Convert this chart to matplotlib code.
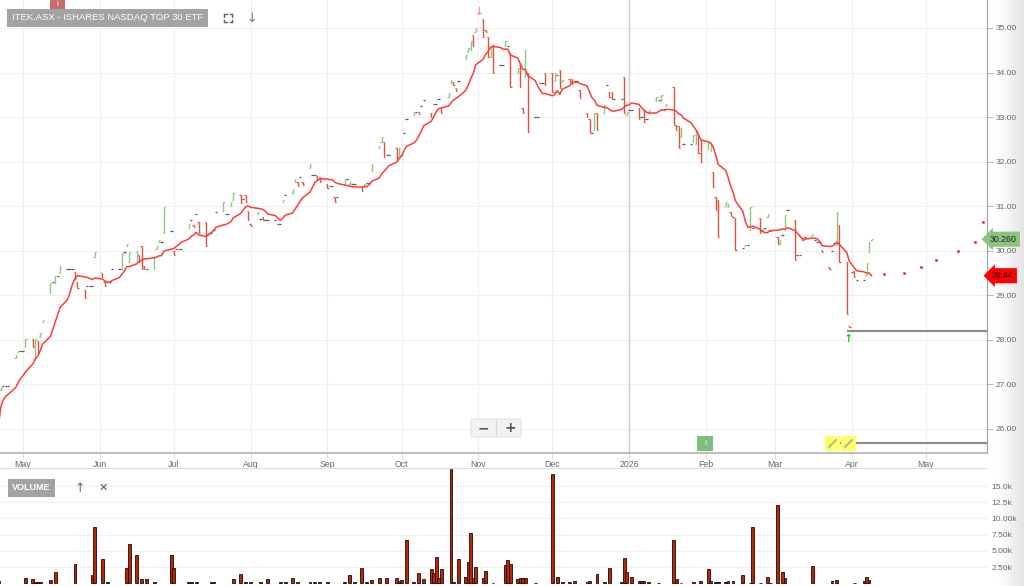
import datetime
import numpy as np
import pandas as pd
from matplotlib import pyplot as plt
from matplotlib import dates as mdates
from matplotlib import transforms as mtrans
from matplotlib.colors import LinearSegmentedColormap
from matplotlib.patches import FancyBboxPatch, Rectangle
from matplotlib.lines import Line2D

plt.rcParams['font.family'] = ['Liberation Sans', 'DejaVu Sans']

c_up = "#8cc97a"
c_down = "#d9533f"
c_flat = "#555555"
c_ma = "#ff3b3b"
c_vol = "#b52808"
c_tick = "#666666"

# daily bars, one row per week (Mon..Fri) starting 2025-04-21
opens = [
    26.08, 26.88, 26.97, 26.97, 26.97,
    27.60, 27.72, 27.74, 27.74, 27.83,
    28.03, 27.56, 27.97, 28.06, 28.40,
    29.06, 29.30, 29.27, 29.43, 29.50,
    29.60, 29.60, 29.60, 29.53, 29.30,
    29.13, 29.20, 29.20, 29.20, 29.85,
    29.50, 29.30, 29.30, 29.30, 29.60,
    29.60, 29.60, 29.98, 30.10, 29.75,
    29.78, 29.90, 30.10, 29.65, 29.60,
    29.60, 30.05, 30.20, 30.20, 30.40,
    30.45, 30.00, 30.05, 30.05, 30.05,
    30.50, 30.70, 30.57, 30.82, 30.65,
    30.65, 30.36, 30.40, 30.47, 30.86,
    30.90, 30.83, 30.83, 31.00, 31.15,
    31.25, 31.17, 31.25, 30.90, 30.60,
    30.82, 30.72, 30.75, 30.70, 30.70,
    30.70, 30.60, 30.60, 31.10, 31.25,
    31.30, 31.55, 31.55, 31.66, 31.55,
    31.85, 31.70, 31.70, 31.68, 31.65,
    31.50, 31.45, 31.45, 31.20, 31.20,
    31.50, 31.60, 31.50, 31.50, 31.50,
    31.45, 31.45, 31.52, 31.52, 31.80,
    32.30, 32.45, 32.45, 32.15, 32.15,
    32.30, 32.10, 32.12, 32.65, 32.95,
    33.05, 33.12, 33.12, 33.25, 33.38,
    33.10, 33.30, 33.30, 33.40, 33.20,
    33.45, 33.77, 33.78, 33.65, 33.80,
    34.30, 34.45, 34.50, 34.85, 34.90,
    35.20, 34.95, 34.80, 34.35, 34.62,
    34.17, 34.17, 34.60, 34.60, 34.44,
    34.00, 34.17, 33.20, 33.90, 34.00,
    33.00, 33.00, 33.77, 33.77, 34.00,
    34.00, 33.80, 33.95, 34.06, 33.78,
    33.85, 33.85, 33.80, 33.80, 33.60,
    33.10, 32.95, 32.65, 32.70, 33.10,
    33.10, 33.72, 33.56, 33.56, 33.40,
    33.40, 33.90, 33.05, 33.16, 33.16,
    33.20, 33.00, 33.15, 32.95, 33.10,
    33.37, 33.39, 33.35, 33.16, 33.25,
    33.68, 32.83, 32.80, 32.55, 32.40,
    32.40, 32.45, 32.40, 32.60, 32.50,
    32.28, 32.25, 31.77, 31.20, 31.14,
    31.00, 30.98, 30.87, 30.76, 30.74,
    30.06, 30.10, 30.13, 30.47, 30.50,
    30.74, 30.45, 30.52, 30.75, 30.47,
    30.30, 30.15, 30.35, 30.50, 30.92,
    30.70, 29.90, 29.90, 30.27, 30.30,
    30.33, 30.25, 30.20, 30.20, 30.02,
    29.63, 30.00, 30.18, 30.13, 30.58,
    29.75, 28.32, 29.53, 29.55, 29.34,
    29.34, 29.45, 29.98, 30.24,
]
closes = [
    26.03, 26.95, 26.97, 26.97, 26.97,
    27.66, 27.74, 27.74, 27.74, 28.03,
    27.84, 28.03, 27.70, 28.16, 28.45,
    29.28, 29.30, 29.43, 29.43, 29.66,
    29.60, 29.60, 29.60, 29.37, 29.17,
    28.95, 29.20, 29.20, 29.20, 29.98,
    29.40, 29.20, 29.30, 29.30, 29.60,
    29.60, 29.95, 29.98, 30.15, 29.98,
    30.00, 29.75, 29.60, 29.58, 29.60,
    29.85, 30.10, 30.25, 30.20, 30.99,
    30.45, 29.90, 30.05, 30.05, 30.05,
    30.60, 30.70, 30.53, 30.82, 30.40,
    30.10, 30.40, 30.40, 30.47, 30.86,
    31.10, 30.83, 30.83, 31.10, 31.30,
    31.07, 31.17, 31.10, 30.70, 30.55,
    30.87, 30.72, 30.68, 30.70, 30.70,
    30.70, 30.60, 30.60, 31.15, 31.25,
    31.38, 31.62, 31.45, 31.66, 31.48,
    31.95, 31.70, 31.70, 31.62, 31.55,
    31.40, 31.45, 31.45, 31.10, 31.20,
    31.60, 31.60, 31.55, 31.50, 31.50,
    31.35, 31.50, 31.52, 31.52, 31.95,
    32.35, 32.55, 32.10, 32.15, 32.15,
    32.05, 32.30, 32.18, 32.65, 32.95,
    33.12, 33.12, 33.08, 33.25, 33.38,
    33.00, 33.30, 33.30, 33.40, 33.10,
    33.55, 33.83, 33.72, 33.58, 33.80,
    34.40, 34.55, 34.70, 34.60, 35.00,
    34.80, 34.90, 34.35, 34.57, 33.99,
    34.17, 34.17, 34.70, 34.60, 33.68,
    34.10, 33.68, 33.10, 34.50, 32.67,
    33.00, 33.00, 33.77, 33.77, 33.72,
    33.57, 34.00, 33.95, 33.65, 33.83,
    33.78, 33.75, 33.80, 33.80, 33.43,
    33.00, 32.65, 32.65, 33.10, 32.70,
    33.27, 33.72, 33.45, 33.40, 33.40,
    33.40, 33.10, 33.12, 33.16, 33.16,
    32.95, 33.00, 32.90, 32.95, 33.15,
    33.45, 33.39, 33.50, 33.16, 33.30,
    32.83, 32.70, 32.30, 32.75, 32.40,
    32.40, 32.60, 32.70, 32.20, 32.00,
    32.42, 32.40, 31.43, 30.92, 30.30,
    31.10, 31.05, 30.78, 30.76, 30.02,
    30.06, 30.13, 30.13, 30.99, 30.50,
    30.40, 30.52, 30.52, 30.82, 30.44,
    30.15, 30.25, 30.35, 30.80, 30.92,
    29.80, 29.90, 29.90, 30.24, 30.30,
    30.37, 30.25, 30.20, 30.20, 29.98,
    29.60, 30.00, 30.18, 30.87, 29.75,
    28.57, 28.28, 29.53, 29.40, 29.34,
    29.34, 29.73, 30.20, 30.26,
]
volumes = [
    300, 0, 0, 0, 0,
    0, 0, 0, 0, 750,
    600, 200, 200, 200, 0,
    450, 0, 1800, 0, 0,
    0, 0, 0, 2900, 0,
    0, 0, 0, 1200, 8600,
    3800, 0, 200, 0, 0,
    0, 0, 0, 2300, 6100,
    4300, 0, 600, 0, 700,
    200, 0, 0, 0, 0,
    4300, 2300, 0, 0, 0,
    200, 200, 0, 200, 0,
    0, 0, 200, 200, 0,
    0, 0, 0, 0, 700,
    1400, 0, 250, 0, 250,
    0, 250, 0, 0, 700,
    0, 0, 150, 0, 150,
    850, 0, 150, 0, 0,
    250, 0, 200, 0, 200,
    200, 0, 0, 0, 0,
    200, 0, 1250, 0, 150,
    2300, 0, 200, 0, 500,
    750, 0, 0, 750, 0,
    750, 400, 500, 0, 6600,
    200, 0, 1600, 0, 600,
    2200, 1600, 4000, 850, 2200,
    0, 17900, 200, 0, 3800,
    1000, 3200, 7800, 850, 2500,
    850, 1900, 0, 0, 100,
    0, 0, 2800, 3600, 2900,
    700, 750, 800, 850, 0,
    100, 0, 0, 0, 0,
    16900, 0, 1000, 0, 150,
    150, 0, 350, 0, 0,
    250, 300, 0, 0, 1400,
    200, 0, 2300, 0, 0,
    200, 3900, 1800, 0, 1000,
    300, 300, 300, 0, 200,
    0, 100, 0, 0, 0,
    6600, 600, 0, 100, 0,
    0, 200, 0, 0, 300,
    2200, 400, 0, 200, 200,
    200, 300, 0, 300, 0,
    1250, 0, 0, 100, 8600,
    100, 0, 0, 1000, 100,
    12000, 0, 1800, 750, 0,
    0, 0, 0, 0, 0,
    2700, 0, 0, 0, 0,
    0, 400, 0, 500, 0,
    0, 0, 0, 100, 0,
    300, 1000, 500, 0,
]
dates = pd.bdate_range("2025-04-21", periods=len(closes))

# projected average dots
proj_dates = ["2026-04-14", "2026-04-22", "2026-04-29", "2026-05-05",
              "2026-05-14", "2026-05-21", "2026-05-24"]
proj_values = [29.48, 29.51, 29.64, 29.80, 30.00, 30.20, 30.65]

alert_price = 28.21
alert_start = "2026-03-30"
alert2_price = 25.69
alert2_start = "2026-03-22"

vol_ticks = [2500, 5000, 7500, 10000, 12500, 15000]
vol_labels = ["2.50k", "5.00k", "7.50k", "10.00k", "12.5k", "15.0k"]

df = pd.DataFrame({"Open": opens, "Close": closes, "Volume": volumes}, index=dates)
df["MA"] = df["Close"].rolling(10, min_periods=1).mean()
xd = mdates.date2num(df.index)

W, H = 1024, 586
fig = plt.figure(figsize=(W / 100, H / 100), dpi=100)

# soft shadow on the right edge
axg = fig.add_axes([998 / W, 0, 26 / W, 1], zorder=-5)
axg.imshow(np.linspace(0, 1, 60)[None, :], aspect="auto",
           cmap=LinearSegmentedColormap.from_list("sh", ["#ffffff", "#e4e4e4"]))
axg.axis("off")

ax = fig.add_axes([0, 133 / H, 987 / W, 453 / H])
axv = fig.add_axes([0, 0, 987 / W, 118 / H])
ax.patch.set_alpha(0)
axv.patch.set_alpha(0)

xmin = datetime.datetime(2025, 4, 21, 17)
xmax = datetime.datetime(2026, 5, 25, 16)

# OHLC bars
up = df["Close"] > df["Open"]
dn = df["Close"] < df["Open"]
fl = df["Close"] == df["Open"]
for mask, col in [(up, c_up), (dn, c_down)]:
    x = xd[mask.values]
    o = df["Open"][mask].values
    c = df["Close"][mask].values
    ax.vlines(x, np.minimum(o, c), np.maximum(o, c), color=col, lw=1.0, zorder=3)
    ax.hlines(o, x - 0.5, x, color=col, lw=0.9, zorder=3)
    ax.hlines(c, x, x + 0.5, color=col, lw=0.9, zorder=3)
x = xd[fl.values]
ax.hlines(df["Close"][fl].values, x - 0.45, x + 0.45, color=c_flat, lw=0.9, zorder=3)

ax.plot(df.index, df["MA"], color=c_ma, lw=1.1, zorder=4)
ax.scatter(pd.to_datetime(proj_dates), proj_values, s=5, color=c_ma, zorder=4, lw=0)

ax.hlines(alert_price, mdates.date2num(pd.Timestamp(alert_start)), mdates.date2num(xmax),
          color="#8a8a8a", lw=1.5, zorder=5)
ax.hlines(alert2_price, mdates.date2num(pd.Timestamp(alert2_start)), mdates.date2num(xmax),
          color="#8a8a8a", lw=1.5, zorder=5)
ax.axvline(datetime.datetime(2026, 1, 1), color="#cfcfcf", lw=1, zorder=1)

ax.set_xlim(xmin, xmax)
ax.set_ylim(25.461, 35.628)
ax.yaxis.tick_right()
ax.set_yticks(range(26, 36))
ax.yaxis.set_major_formatter(plt.FormatStrFormatter("%.2f"))
ax.xaxis.set_major_locator(mdates.MonthLocator())
ax.xaxis.set_major_formatter(plt.FuncFormatter(
    lambda v, p: str(mdates.num2date(v).year) if mdates.num2date(v).month == 1
    else mdates.num2date(v).strftime("%b")))
ax.tick_params(axis="y", labelsize=6, colors="#aaaaaa", labelcolor=c_tick, length=4, width=0.6, pad=2)
ax.tick_params(axis="x", labelsize=6.3, colors="#dddddd", labelcolor=c_tick, length=4, width=0.8, pad=1)
ax.grid(color="#efefef", lw=0.8)
ax.set_axisbelow(True)
for s in ["top", "left"]:
    ax.spines[s].set_visible(False)
ax.spines["right"].set_color("#a0a0a0")
ax.spines["bottom"].set_color("#b0b0b0")
ax.spines["bottom"].set_linewidth(1.2)

# volume panel
vm = df["Volume"] > 0
axv.bar(df.index[vm], df["Volume"][vm], width=1.15, color=c_vol, edgecolor="#220600", lw=0.6)
axv.set_xlim(xmin, xmax)
axv.set_ylim(-430, 17780)
axv.yaxis.tick_right()
axv.set_yticks(vol_ticks)
axv.set_yticklabels(vol_labels)
axv.set_xticks([])
axv.tick_params(axis="y", labelsize=6, labelcolor=c_tick, length=0, pad=3)
axv.grid(axis="y", color="#efefef", lw=0.8)
axv.set_axisbelow(True)
for s in ["left", "right", "bottom"]:
    axv.spines[s].set_visible(False)
axv.spines["top"].set_color("#dddddd")


def fx(px):
    return px / W


def fy(py):
    return 1 - py / H


# title and controls
fig.text(fx(12), fy(18), "ITEK.ASX - ISHARES NASDAQ TOP 30 ETF", color="white", fontsize=6.8,
         va="center", ha="left",
         bbox=dict(boxstyle="square,pad=0.5", fc="#a3a3a3", ec="none"))
for cx, cy, dx, dy in [(224, 14, 1, 1), (232, 14, -1, 1), (224, 22, 1, -1), (232, 22, -1, -1)]:
    fig.add_artist(Line2D([fx(cx), fx(cx + 2.5 * dx)], [fy(cy), fy(cy)], color="#666", lw=1))
    fig.add_artist(Line2D([fx(cx), fx(cx)], [fy(cy), fy(cy + 2.5 * dy)], color="#666", lw=1))
fig.text(fx(252), fy(18), "↓", color="#777", fontsize=9, ha="center", va="center",
         family="DejaVu Sans")
fig.add_artist(Rectangle((fx(50), fy(9)), fx(15), 9 / H, fc="#c86e6e", ec="none"))
fig.text(fx(57.5), fy(4), "I", color="white", fontsize=5, ha="center", va="center")

fig.text(fx(12), fy(488), "VOLUME", color="white", fontsize=6.5, fontweight="bold",
         va="center", ha="left", bbox=dict(boxstyle="square,pad=0.45", fc="#a3a3a3", ec="none"))
fig.text(fx(80), fy(488), "↑", color="#666", fontsize=9, ha="center", va="center",
         family="DejaVu Sans")
fig.text(fx(103), fy(488), "✕", color="#555", fontsize=8, ha="center", va="center",
         family="DejaVu Sans")

# zoom control
fig.add_artist(FancyBboxPatch((fx(471), fy(437)), 50 / W, 18 / H,
                              boxstyle="round,pad=0,rounding_size=0.003",
                              fc="#f2f2f2", ec="#e2e2e2", lw=0.8))
fig.add_artist(Line2D([fx(496), fx(496)], [fy(421), fy(434)], color="#d8d8d8", lw=0.8))
fig.text(fx(483), fy(428), "−", color="#555", fontsize=10, fontweight="bold",
         ha="center", va="center", family="DejaVu Sans")
fig.text(fx(510), fy(428), "+", color="#555", fontsize=10, fontweight="bold",
         ha="center", va="center", family="DejaVu Sans")

# event markers
fig.add_artist(Rectangle((fx(697), fy(451)), 16 / W, 15 / H, fc="#7cbf7c", ec="none"))
fig.text(fx(705), fy(443.5), "I", color="white", fontsize=5.5, ha="center", va="center")
for x0 in [825, 841]:
    fig.add_artist(Rectangle((fx(x0), fy(451)), 15 / W, 15 / H, fc="#ffff66", ec="none"))
    fig.add_artist(Line2D([fx(x0 + 4), fx(x0 + 11)], [fy(447), fy(440)], color="#aaaaaa", lw=1.2))

ax.text(datetime.datetime(2025, 11, 1, 8), 35.36, "↓", color="#f08080", fontsize=8,
        ha="center", va="center", family="DejaVu Sans", zorder=6)
ax.text(datetime.datetime(2026, 3, 30, 20), 28.03, "↑", color="#22cc22", fontsize=8,
        ha="center", va="center", family="DejaVu Sans", fontweight="bold", zorder=6)

# price tags
tr = mtrans.blended_transform_factory(fig.transFigure, ax.transData)
ax.text(fx(990), df["Close"].iloc[-1], "%.3f" % df["Close"].iloc[-1], transform=tr,
        fontsize=6.3, color="#222", ha="left", va="center", clip_on=False, zorder=10,
        bbox=dict(boxstyle="larrow,pad=0.35", fc="#8dc27f", ec="none"))
ax.text(fx(992), df["MA"].iloc[-1], "%.2f" % df["MA"].iloc[-1], transform=tr,
        fontsize=6.3, color="#300", ha="left", va="center", clip_on=False, zorder=10,
        bbox=dict(boxstyle="larrow,pad=0.35", fc="#ff0000", ec="none"))

plt.savefig("out.png", dpi=100)
